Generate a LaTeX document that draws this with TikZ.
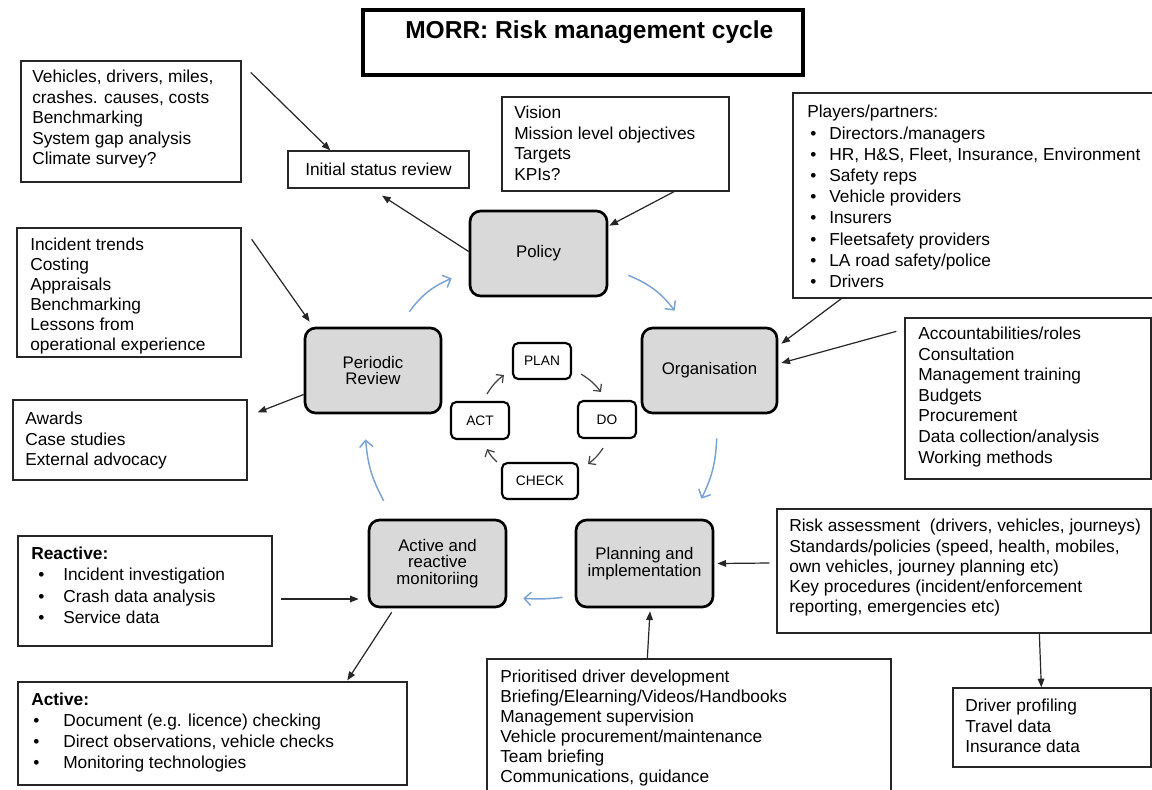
\documentclass[tikz,border=0pt]{standalone}
\usepackage{fontspec}
\setmainfont{Liberation Sans}
\usetikzlibrary{arrows.meta,fit}
\definecolor{cyc}{RGB}{122,162,212}
\definecolor{phasefill}{RGB}{217,217,217}
\newcommand{\bul}[1]{\makebox[#1][l]{\textbullet}}
\tikzset{
  tbox/.style={draw=black!85, line width=1pt, inner sep=0pt},
  btxt/.style={font=\fontsize{13}{15.4}\selectfont, align=left, inner sep=0pt, anchor=north west},
  phase/.style={draw=black, line width=2pt, rounded corners=8pt, fill=phasefill, inner sep=0pt, align=center, font=\fontsize{12.6}{12.4}\selectfont},
  pdca/.style={draw=black, line width=1.6pt, rounded corners=4pt, inner sep=0pt, font=\fontsize{10.3}{12}\selectfont},
  blk/.style={draw=black!85, line width=0.9pt, -{Triangle[length=6.5pt,width=5pt]}},
  cyca/.style={draw=cyc, line width=1.1pt, -{Straight Barb[length=5pt,width=10pt]}},
  pdcaa/.style={draw=black!75, line width=0.9pt, -{Straight Barb[length=4pt,width=8pt]}},
}
\begin{document}
\begin{tikzpicture}[x=0.75pt,y=-0.75pt]
\fill[white] (0,0) rectangle (1152,789);
\useasboundingbox (0,0) rectangle (1152,789);

% title
\node[draw=black, line width=3pt, inner sep=0pt, fit={(363,10) (803,75)}] (title) {};
\node[anchor=west, inner sep=0pt, font=\bfseries\fontsize{18.4}{20}\selectfont] (ttl) at (405,32) {MORR: Risk management cycle};

% text boxes
\node[tbox, fit={(21,61) (241,182)}] (b1) {};
\node[btxt] (b1t) at (32,70) {Vehicles, drivers, miles,\\crashes. causes, costs\\Benchmarking\\System gap analysis\\Climate survey?};

\node[tbox, minimum width=135.75pt, minimum height=27.75pt, font=\fontsize{13}{15.4}\selectfont] (isr) at (378.5,169.5) {Initial status review};

\node[tbox, fit={(502,97) (729,191)}] (vis) {};
\node[btxt] (vist) at (514,106) {Vision\\Mission level objectives\\Targets\\KPIs?};

\node[tbox, fit={(793,93) (1170,298)}] (pla) {};
\node[btxt, font=\fontsize{13}{15.9}\selectfont] (plat) at (807,105) {Players/partners:\\
\hspace{2.25pt}\bul{14.25pt}Directors./managers\\
\hspace{2.25pt}\bul{14.25pt}HR, H\&S, Fleet, Insurance, Environment\\
\hspace{2.25pt}\bul{14.25pt}Safety reps\\
\hspace{2.25pt}\bul{14.25pt}Vehicle providers\\
\hspace{2.25pt}\bul{14.25pt}Insurers\\
\hspace{2.25pt}\bul{14.25pt}Fleetsafety providers\\
\hspace{2.25pt}\bul{14.25pt}LA road safety/police\\
\hspace{2.25pt}\bul{14.25pt}Drivers};

\node[tbox, fit={(905,318) (1151,479)}] (acc) {};
\node[btxt] (acct) at (918,327) {Accountabilities/roles\\Consultation\\Management training\\Budgets\\Procurement\\Data collection/analysis\\Working methods};

\node[tbox, fit={(17,228) (241,357)}] (inc) {};
\node[btxt, font=\fontsize{13}{15}\selectfont] (inct) at (30,238) {Incident trends\\Costing\\Appraisals\\Benchmarking\\Lessons from\\operational experience};

\node[tbox, fit={(13,400) (247,480)}] (awd) {};
\node[btxt] (awdt) at (25,412) {Awards\\Case studies\\External advocacy};

\node[tbox, fit={(18,536) (272,646)}] (rea) {};
\node[btxt, font=\fontsize{13}{16}\selectfont] (reat) at (31,546.5) {\textbf{Reactive:}\\
\hspace{5.25pt}\bul{18.75pt}Incident investigation\\
\hspace{5.25pt}\bul{18.75pt}Crash data analysis\\
\hspace{5.25pt}\bul{18.75pt}Service data};

\node[tbox, fit={(18,682) (407,785)}] (act) {};
\node[btxt, font=\fontsize{13}{15.8}\selectfont] (actt) at (31,692.5) {\textbf{Active:}\\
\hspace{1.5pt}\bul{22.5pt}Document (e.g. licence) checking\\
\hspace{1.5pt}\bul{22.5pt}Direct observations, vehicle checks\\
\hspace{1.5pt}\bul{22.5pt}Monitoring technologies};

\node[tbox, fit={(777,509) (1151,633)}] (risk) {};
\node[btxt, font=\fontsize{13}{15.2}\selectfont] (riskt) at (789,519) {Risk assessment\ \ (drivers, vehicles, journeys)\\Standards/policies (speed, health, mobiles,\\own vehicles, journey planning etc)\\Key procedures (incident/enforcement\\reporting, emergencies etc)};

\node[tbox, fit={(953,688) (1151,767)}] (drv) {};
\node[btxt] (drvt) at (965,699) {Driver profiling\\Travel data\\Insurance data};

\node[tbox, fit={(487,659) (891,800)}] (pri) {};
\node[btxt, font=\fontsize{13}{15}\selectfont] (prit) at (500,670) {Prioritised driver development\\Briefing/Elearning/Videos/Handbooks\\Management supervision\\Vehicle procurement/maintenance\\Team briefing\\Communications, guidance};

% phases
\node[phase, minimum width=102.75pt, minimum height=63.75pt] (pol) at (538.5,253.5) {Policy};
\node[phase, minimum width=101.25pt, minimum height=63.75pt] (org) at (709.5,370.5) {Organisation};
\node[phase, minimum width=102.75pt, minimum height=65.25pt] (pln) at (644.5,563.5) {Planning and\\implementation};
\node[phase, minimum width=102.75pt, minimum height=65.25pt] (mon) at (437.5,563.5) {Active and\\reactive\\monitoriing};
\node[phase, minimum width=102pt, minimum height=63.75pt] (rev) at (373,370.5) {Periodic\\Review};

% PDCA
\node[pdca, minimum width=43.5pt, minimum height=27pt] (plan) at (542,361) {PLAN};
\node[pdca, minimum width=43.5pt, minimum height=27.75pt] (do) at (607,419.5) {DO};
\node[pdca, minimum width=57pt, minimum height=27pt] (chk) at (540,481) {CHECK};
\node[pdca, minimum width=43.5pt, minimum height=27.75pt] (actn) at (480,420.5) {ACT};

% black connectors
\draw[blk] ([shift={(9,12)}]b1.north east) -- ([shift={(43,0)}]isr.north west);
\draw[blk] ([shift={(0,-2)}]pol.west) -- ([shift={(3.5,7)}]isr.south);
\draw[blk] ([shift={(58.5,0)}]vis.south) -- ([shift={(1,16)}]pol.north east);
\draw[blk] ([shift={(10,12)}]inc.north east) -- ([shift={(6,-5)}]rev.north west);
\draw[blk] ([shift={(0,24)}]rev.west) -- ([shift={(10,13)}]awd.north east);
\draw[blk] ([shift={(49,0)}]pla.south west) -- ([shift={(3,17)}]org.north east);
\draw[blk] ([shift={(-8,14)}]acc.north west) -- ([shift={(3,-7.5)}]org.east);
\draw[blk] ([shift={(-7,-8)}]risk.west) -- ([shift={(3,0)}]pln.east);
\draw[blk] ([shift={(263,0)}]risk.south west) -- ([shift={(89,0)}]drv.north west);
\draw[blk] ([shift={(161,0)}]pri.north west) -- ([shift={(5.5,3)}]pln.south);
\draw[blk] ([shift={(8,8)}]rea.east) -- ([shift={(-9,35.5)}]mon.west);
\draw[blk] ([shift={(24,4)}]mon.south west) -- ([shift={(330,-1)}]act.north west);

% blue cycle
\draw[cyca] ([shift={(-33,-15)}]rev.north east) to[bend left=15] ([shift={(-17,-19)}]pol.south west);
\draw[cyca] ([shift={(20,-22)}]pol.south east) to[bend left=15] ([shift={(34,-16)}]org.north west);
\draw[cyca] ([shift={(76,24)}]org.south west) to[bend left=12] ([shift={(-13,-20)}]pln.north east);
\draw[cyca] ([shift={(-12,-11)}]pln.south west) to[bend left=5] ([shift={(16,-10)}]mon.south east);
\draw[cyca] ([shift={(16,-18)}]mon.north west) to[bend left=12] ([shift={(62,25)}]rev.south west);

% PDCA arrows
\draw[pdcaa] ([shift={(9,-6)}]plan.south east) to[bend left=10] ([shift={(-6,-8)}]do.north);
\draw[pdcaa] ([shift={(-4,9)}]do.south) to[bend left=10] ([shift={(9,2)}]chk.north east);
\draw[pdcaa] ([shift={(-4,0)}]chk.north west) to[bend left=10] ([shift={(7,9)}]actn.south);
\draw[pdcaa] ([shift={(7,-7)}]actn.north) to[bend left=10] ([shift={(-8,14)}]plan.west);
\end{tikzpicture}
\end{document}
